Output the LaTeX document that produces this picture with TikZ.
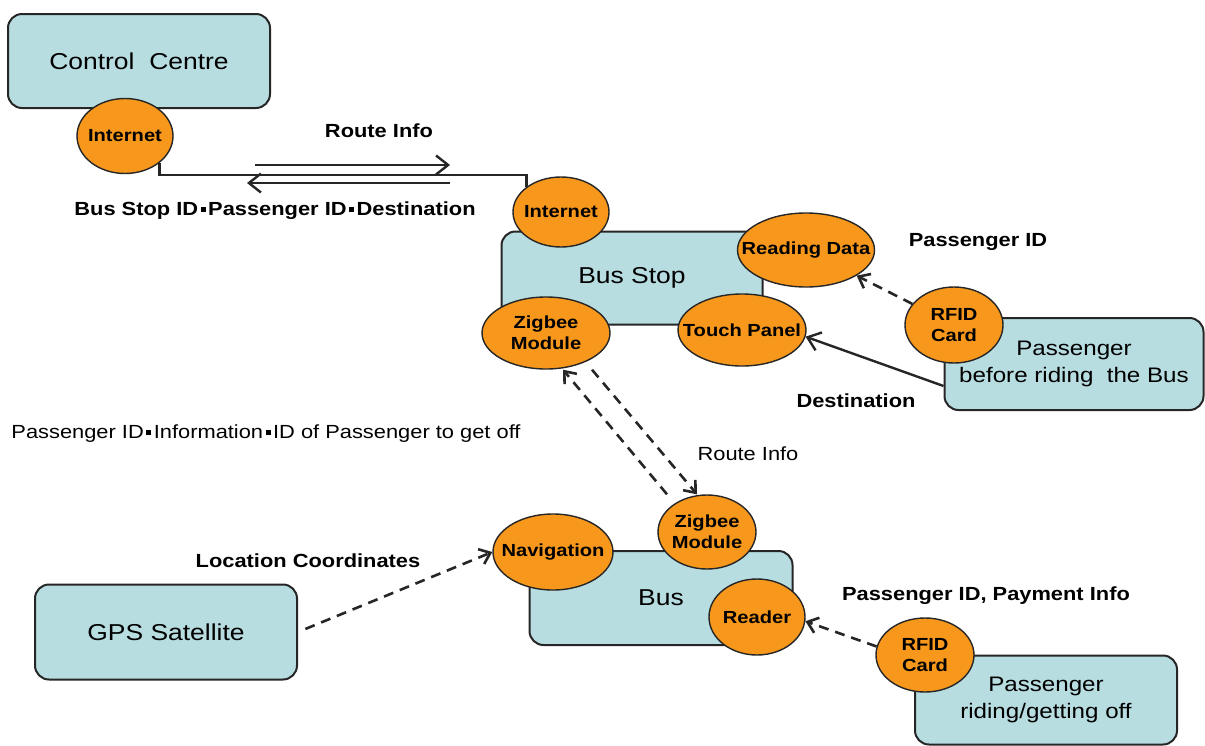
\documentclass[tikz,border=0pt]{standalone}
\usepackage{fontspec}
\setmainfont{Liberation Sans}[FakeStretch=1.15]
\usetikzlibrary{shapes.geometric,arrows.meta}
\definecolor{boxfill}{HTML}{B8DDE1}
\definecolor{portfill}{HTML}{F7981D}
\definecolor{linecol}{HTML}{262626}
\newcommand{\idsep}{\kern2.5pt\raisebox{3.5pt}{\rule{5pt}{4.5pt}}\kern2.5pt}

\begin{document}
\begin{tikzpicture}[
    x=1pt, y=-1pt,
    box/.style={draw=linecol, line width=2pt, rounded corners=14pt, fill=boxfill, align=center, font=\fontsize{23}{27}\selectfont},
    port/.style={ellipse, draw=linecol, line width=1.4pt, fill=portfill, inner sep=0pt},
    porttxt/.style={font=\bfseries\fontsize{17.5}{21}\selectfont, align=center, inner sep=0pt},
    lbl/.style={font=\bfseries\fontsize{19}{22}\selectfont, anchor=base},
    arr/.style={-{Straight Barb[length=12pt,width=19pt]}, line width=2.4pt, linecol},
    darr/.style={-{Straight Barb[length=10pt,width=16pt]}, line width=2.6pt, linecol, dash pattern=on 10pt off 7pt}
]
    \useasboundingbox (0,0) rectangle (1205,745);

    % --- Blocks ---
    \node[box, minimum width=262pt, minimum height=94pt] (cc) at (139,61) {Control\ \ Centre};
    \node[box, minimum width=261pt, minimum height=93pt] (stop) at (632,278) {Bus Stop};
    \node[box, minimum width=259pt, minimum height=92pt, font=\fontsize{21}{27}\selectfont] (before) at (1074,364) {Passenger\\before riding\ \ the Bus};
    \node[box, minimum width=262pt, minimum height=95pt] (gps) at (166,632) {GPS Satellite};
    \node[box, minimum width=263pt, minimum height=94pt] (bus) at (661,598) {Bus};
    \node[box, minimum width=262pt, minimum height=89pt, font=\fontsize{21}{27}\selectfont] (riding) at (1046,700) {Passenger\\riding/getting off};

    % --- Modules ---
    \node[port, minimum width=96pt, minimum height=75pt, label={[porttxt]center:Internet}] (ccnet) at (125,136) {};
    \node[port, minimum width=96pt, minimum height=70pt, label={[porttxt]center:Internet}] (stopnet) at (561,212) {};
    \node[port, minimum width=137pt, minimum height=74pt, label={[porttxt]center:Reading Data}] (readdata) at (806,250) {};
    \node[port, minimum width=128pt, minimum height=72pt, label={[porttxt]center:{Zigbee\\Module}}] (stopzig) at (546,333) {};
    \node[port, minimum width=128pt, minimum height=72pt, label={[porttxt]center:Touch Panel}] (touch) at (742,330) {};
    \node[port, minimum width=98pt, minimum height=76pt, label={[porttxt]center:{RFID\\Card}}] (rfidA) at (954,325) {};
    \node[port, minimum width=98pt, minimum height=74pt, label={[porttxt]center:{Zigbee\\Module}}] (buszig) at (707,532) {};
    \node[port, minimum width=120pt, minimum height=76pt, label={[porttxt]center:Navigation}] (nav) at (553,552) {};
    \node[port, minimum width=96pt, minimum height=76pt, label={[porttxt]center:Reader}] (reader) at (757,617) {};
    \node[port, minimum width=98pt, minimum height=74pt, label={[porttxt]center:{RFID\\Card}}] (rfidB) at (925,655) {};

    % --- Internet cable ---
    \coordinate (cable) at (0,175);
    \draw[line width=2.6pt, linecol] (ccnet.south east) |- (stopnet.north west |- cable) -- (stopnet.north west);
    \coordinate (routeA) at (255,165);
    \coordinate (routeB) at (450,165);
    \coordinate (backA) at (450,183);
    \coordinate (backB) at (247,183);
    \draw[arr] (routeA) -- (routeB);
    \draw[arr] (backA) -- (backB);

    % --- Data flows ---
    \draw[darr] (rfidA) -- (readdata);
    \draw[arr] ([yshift=-22pt]before.west) -- (touch.-6);
    \draw[darr] ([xshift=-40pt]buszig.north) -- ([xshift=17pt]stopzig.south);
    \draw[darr] ([xshift=46pt]stopzig.south) -- ([xshift=-10pt]buszig.north);
    \draw[darr, shorten <=8pt] (gps.east) -- (nav.west);
    \draw[darr] (rfidB.170) -- (reader.-5);

    % --- Labels ---
    \node[lbl] (routetop) at (379,137) {Route Info};
    \node[lbl] (upload) at (275,215) {Bus Stop ID\idsep Passenger ID\idsep Destination};
    \node[lbl] (pidA) at (978,246) {Passenger ID};
    \node[lbl] (dest) at (856,407) {Destination};
    \node[lbl, font=\fontsize{19}{22}\selectfont] (zigdata) at (266,438) {Passenger ID\idsep Information\idsep ID of Passenger to get off};
    \node[lbl, font=\fontsize{19}{22}\selectfont] (routelow) at (748,460) {Route Info};
    \node[lbl] (loc) at (308,567) {Location Coordinates};
    \node[lbl] (pay) at (986,600) {Passenger ID, Payment Info};
\end{tikzpicture}
\end{document}
